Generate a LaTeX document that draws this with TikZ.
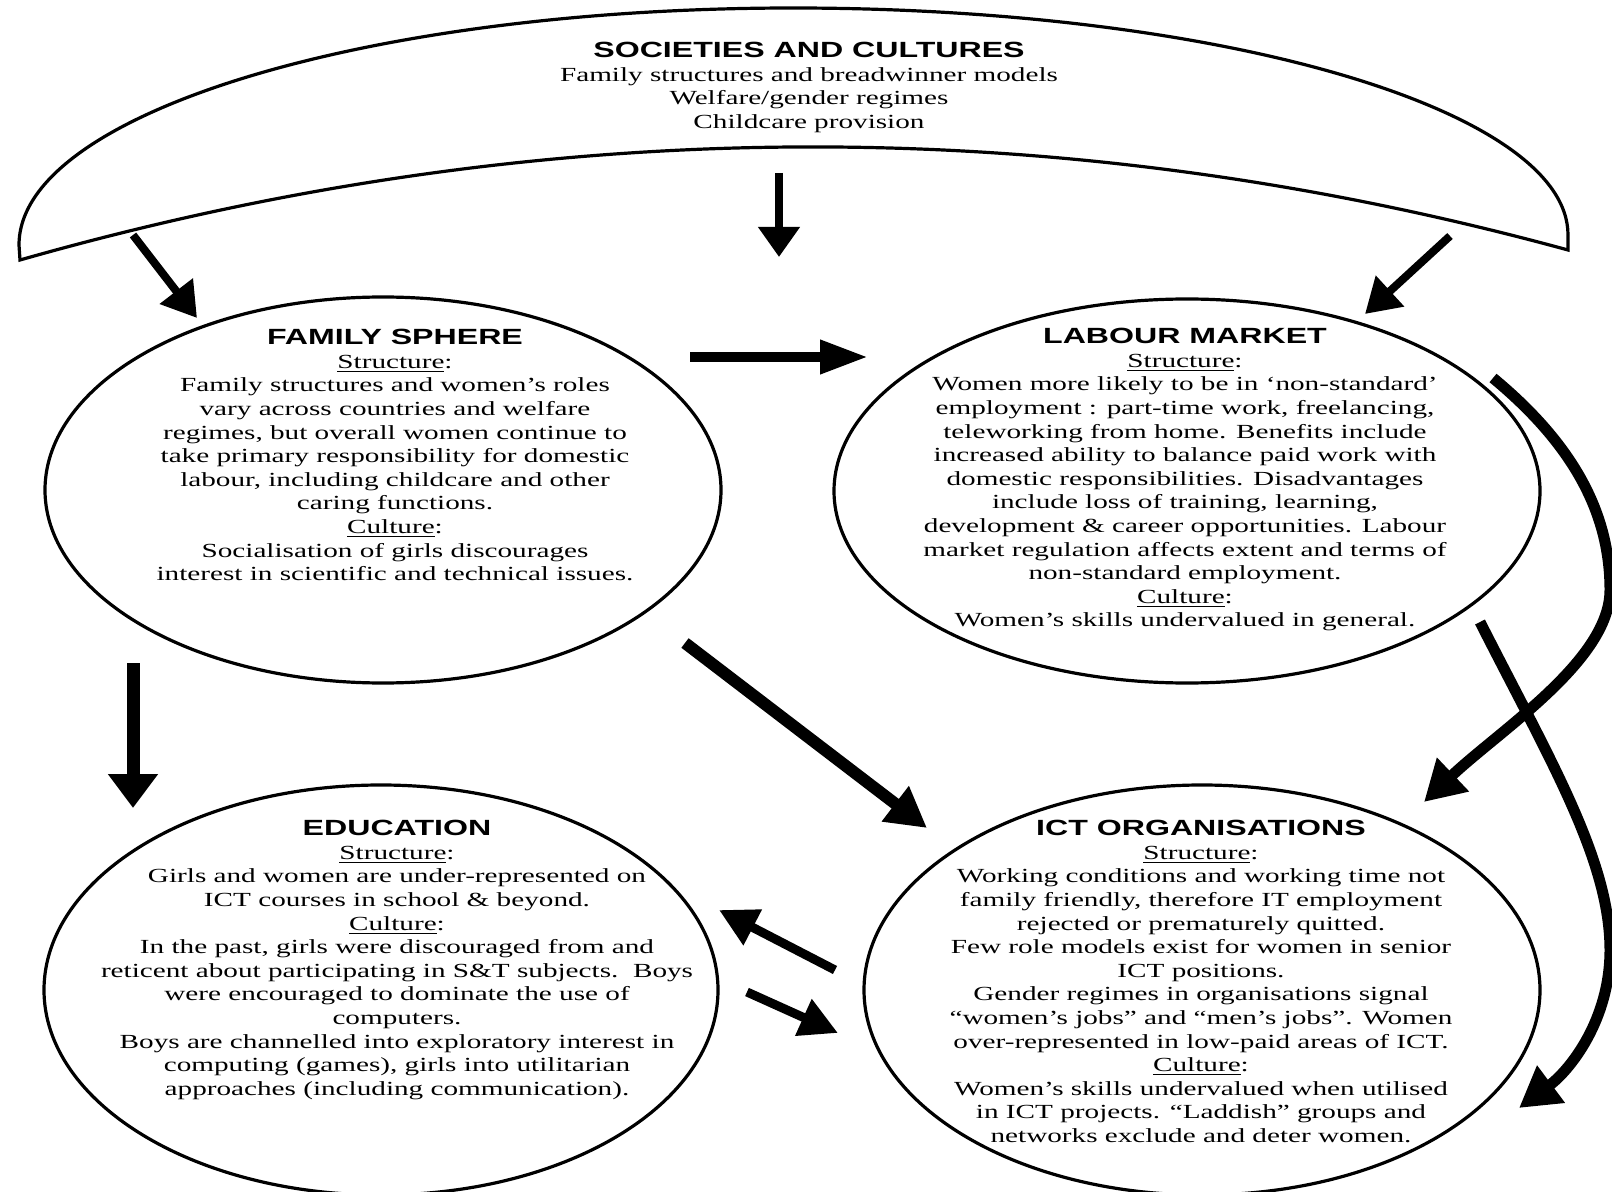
\documentclass[tikz,border=0pt]{standalone}
\usepackage{fontspec}
\setmainfont{Liberation Serif}[FakeStretch=1.46]
\newfontfamily\headfont{Liberation Sans}[FakeStretch=1.46]
\usetikzlibrary{shapes.geometric,arrows.meta}

\newcommand{\boxhead}[1]{{\headfont\bfseries\fontsize{11}{11.8}\selectfont #1}}

\tikzset{
  blob/.style={draw, ellipse, line width=1.6pt, inner sep=0pt},
  body/.style={align=center, inner sep=0pt, anchor=north,
               font=\fontsize{10}{11.8}\selectfont},
  flow/.style={line width=5pt, -{Triangle[length=18pt,width=22pt]}},
}

\begin{document}
\begin{tikzpicture}[x=0.5pt,y=-0.5pt]
\useasboundingbox (0,0) rectangle (1612,1192);
\fill[white] (0,0) rectangle (1612,1192);

% crescent holding the societal context
\draw[line width=1.6pt, line join=miter]
  (20,260) -- (19,245)
  .. controls (19,114) and (366,8) .. (793,8)
  .. controls (1221,8) and (1568,110) .. (1568,235)
  -- (1568,250)
  .. controls (1052,109) and (536,113) .. (20,260) -- cycle;
\node[body, anchor=north] (soc) at (809,42)
  {\boxhead{SOCIETIES AND CULTURES}\\
   Family structures and breadwinner models\\
   Welfare/gender regimes\\
   Childcare provision};

% the four spheres
\node[blob, minimum width=338pt, minimum height=193pt] (family) at (383,490) {};
\node[blob, minimum width=353pt, minimum height=192pt] (labour) at (1187,491) {};
\node[blob, minimum width=337pt, minimum height=205pt] (educ) at (381,990) {};
\node[blob, minimum width=338pt, minimum height=205pt] (ict) at (1202,990) {};

\node[body] (famtext) at (395,329)
  {\boxhead{FAMILY SPHERE}\\
   \underline{Structure}:\\
   Family structures and women’s roles\\
   vary across countries and welfare\\
   regimes, but overall women continue to\\
   take primary responsibility for domestic\\
   labour, including childcare and other\\
   caring functions.\\
   \underline{Culture}:\\
   Socialisation of girls discourages\\
   interest in scientific and technical issues.};

\node[body] (labtext) at (1185,328)
  {\boxhead{LABOUR MARKET}\\
   \underline{Structure}:\\
   Women more likely to be in ‘non-standard’\\
   employment : part-time work, freelancing,\\
   teleworking from home. Benefits include\\
   increased ability to balance paid work with\\
   domestic responsibilities. Disadvantages\\
   include loss of training, learning,\\
   development \& career opportunities. Labour\\
   market regulation affects extent and terms of\\
   non-standard employment.\\
   \underline{Culture}:\\
   Women’s skills undervalued in general.};

\node[body] (edutext) at (397,820)
  {\boxhead{EDUCATION}\\
   \underline{Structure}:\\
   Girls and women are under-represented on\\
   ICT courses in school \& beyond.\\
   \underline{Culture}:\\
   In the past, girls were discouraged from and\\
   reticent about participating in S\&T subjects.\ \ Boys\\
   were encouraged to dominate the use of\\
   computers.\\
   Boys are channelled into exploratory interest in\\
   computing (games), girls into utilitarian\\
   approaches (including communication).};

\node[body] (icttext) at (1201,820)
  {\boxhead{ICT ORGANISATIONS}\\
   \underline{Structure}:\\
   Working conditions and working time not\\
   family friendly, therefore IT employment\\
   rejected or prematurely quitted.\\
   Few role models exist for women in senior\\
   ICT positions.\\
   Gender regimes in organisations signal\\
   “women’s jobs” and “men’s jobs”. Women\\
   over-represented in low-paid areas of ICT.\\
   \underline{Culture}:\\
   Women’s skills undervalued when utilised\\
   in ICT projects. “Laddish” groups and\\
   networks exclude and deter women.};

% arrow ends
\coordinate (socL)  at (133,235);  \coordinate (famT)  at (197,318);
\coordinate (socM)  at (779,173);  \coordinate (midT)  at (779,257);
\coordinate (socR)  at (1450,236); \coordinate (labT)  at (1365,314);
\coordinate (famR)  at (690,357);  \coordinate (labL)  at (868,357);
\coordinate (famB)  at (133,663);  \coordinate (eduT)  at (133,808);
\coordinate (famBR) at (685,643);  \coordinate (ictTL) at (927,828);
\coordinate (ictL)  at (835,970);  \coordinate (eduR)  at (719,910);
\coordinate (eduRB) at (747,992);  \coordinate (ictLB) at (838,1033);
\coordinate (labTR) at (1493,378); \coordinate (ictTR) at (1424,802);
\coordinate (labBR) at (1480,622); \coordinate (ictBR) at (1519,1108);

% influences
\draw[flow, line width=4pt, -{Triangle[length=17pt,width=20pt]}] (socL) -- (famT);
\draw[flow, line width=4pt, -{Triangle[length=15pt,width=20pt]}] (socM) -- (midT);
\draw[flow, line width=4pt, -{Triangle[length=17pt,width=20pt]}] (socR) -- (labT);
\draw[flow, -{Triangle[length=24pt,width=16pt]}] (famR) -- (labL);
\draw[flow, line width=6.5pt, -{Triangle[length=17pt,width=24pt]}] (famB) -- (eduT);
\draw[flow, line width=6pt, -{Triangle[length=20pt,width=21pt]}] (famBR) -- (ictTL);
\draw[flow, line width=4.5pt, -{Triangle[length=19pt,width=19pt]}] (ictL) -- (eduR);
\draw[flow, line width=4.5pt, -{Triangle[length=19pt,width=19pt]}] (eduRB) -- (ictLB);
\draw[flow, line width=5.5pt, -{Triangle[length=20pt,width=22pt]}] (labTR)
  .. controls (1580,450) and (1610,520) .. (1610,590)
  .. controls (1610,660) and (1500,730) .. (ictTR);
\draw[flow, line width=5.5pt, -{Triangle[length=20pt,width=22pt]}] (labBR)
  .. controls (1550,760) and (1610,860) .. (1610,950)
  .. controls (1610,1020) and (1570,1070) .. (ictBR);
\end{tikzpicture}
\end{document}
